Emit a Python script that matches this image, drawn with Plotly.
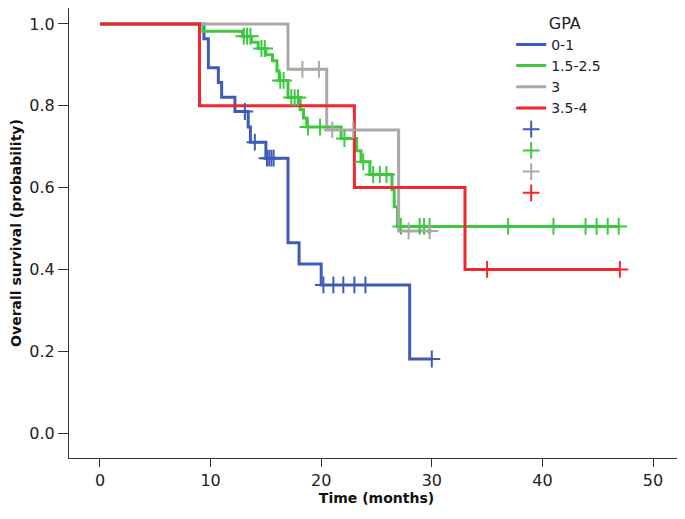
import plotly.graph_objects as go

# Kaplan-Meier steps (time in months, survival probability)
blue_time = [0, 9.4, 9.8, 10.7, 11.0, 12.2, 13.4, 13.6, 15.0, 17.0, 18.0, 20.0, 28.0, 30.0]
blue_surv = [1.0, 0.964, 0.893, 0.857, 0.821, 0.786, 0.748, 0.711, 0.672, 0.465, 0.413, 0.362, 0.181, 0.181]
blue_cens = [13.1, 14.0, 15.1, 15.3, 15.5, 15.7, 20.2, 21.1, 22.0, 23.0, 24.0, 30.0]

green_time = [0, 9.3, 12.9, 13.7, 14.3, 15.0, 15.6, 16.0, 16.2, 17.0, 18.1, 18.4, 18.7,
              21.8, 23.2, 23.6, 24.4, 26.4, 26.6, 26.9, 47.0]
green_surv = [1.0, 0.982, 0.970, 0.955, 0.94, 0.925, 0.91, 0.885, 0.862, 0.82, 0.79, 0.77, 0.748,
              0.72, 0.69, 0.663, 0.632, 0.595, 0.553, 0.505, 0.505]
green_cens = [13.0, 13.3, 13.6, 14.6, 14.9, 16.3, 16.6, 17.3, 17.6, 17.9, 18.8, 19.9, 22.1,
              23.8, 24.7, 25.3, 25.9, 27.2, 28.9, 29.3, 29.8, 36.9, 41.0, 43.9, 44.9, 45.9, 46.9]

gray_time = [0, 17.0, 20.5, 27.0, 30.0]
gray_surv = [1.0, 0.889, 0.741, 0.494, 0.494]
gray_cens = [18.3, 19.8, 21.0, 22.9, 27.9, 29.8]

red_time = [0, 9.0, 23.0, 33.0, 47.0]
red_surv = [1.0, 0.8, 0.6, 0.4, 0.4]
red_cens = [35.0, 47.0]

groups = ["0-1", "1.5-2.5", "3", "3.5-4"]
colors = ["#3f5bb8", "#3dc83f", "#a9a9a9", "#f2262e"]
steps = [(blue_time, blue_surv), (green_time, green_surv),
         (gray_time, gray_surv), (red_time, red_surv)]
censored = [blue_cens, green_cens, gray_cens, red_cens]

FONT = "DejaVu Sans, sans-serif"


def level_at(times, surv, t):
    # value of the step function at time t
    val = surv[0]
    for ti, si in zip(times, surv):
        if ti <= t:
            val = si
    return val


fig = go.Figure()

for name, color, (t, s) in zip(groups, colors, steps):
    fig.add_trace(go.Scatter(
        x=t, y=s, mode="lines", name=name,
        line=dict(color=color, width=3, shape="hv"),
    ))

for color, cens, (t, s) in zip(colors, censored, steps):
    fig.add_trace(go.Scatter(
        x=cens, y=[level_at(t, s, c) for c in cens], mode="markers", name=" ",
        marker=dict(symbol="cross-thin-open", size=12, color=color,
                    line=dict(color=color, width=2)),
    ))

axis_font = dict(family=FONT, size=16, color="#222")

# the page body adds an 8px margin, so the figure is 8px smaller than the window
fig.update_layout(
    width=677, height=511,
    margin=dict(l=61, r=1, t=0, b=61),
    plot_bgcolor="white",
    paper_bgcolor="white",
    legend=dict(
        title=dict(text="\u00a0" * 7 + "GPA", font=dict(family=FONT, size=16, color="#222")),
        x=0.719, y=1.0, xanchor="left", yanchor="top",
        font=dict(family=FONT, size=14, color="#222"),
        bgcolor="rgba(0,0,0,0)",
        itemwidth=30,
    ),
    xaxis=dict(
        range=[-2.8, 52.8], tickvals=[0, 10, 20, 30, 40, 50],
        ticks="outside", ticklen=8, tickcolor="#333",
        showline=True, linecolor="#333", linewidth=1, mirror=True,
        showgrid=False, zeroline=False, tickfont=axis_font, automargin=False,
        title=dict(text="<b>Time (months)</b>", font=dict(family=FONT, size=14, color="#111"),
                   standoff=3),
    ),
    yaxis=dict(
        range=[-0.061, 1.039], tickvals=[0, 0.2, 0.4, 0.6, 0.8, 1.0], tickformat=".1f",
        ticks="outside", ticklen=10, tickcolor="#333",
        showline=True, linecolor="#333", linewidth=1, mirror=True,
        showgrid=False, zeroline=False, tickfont=axis_font, automargin=False,
        title=dict(text="<b>Overall survival (probability)</b>",
                   font=dict(family=FONT, size=14, color="#111"), standoff=4),
    ),
)

fig.write_html("out.html")
